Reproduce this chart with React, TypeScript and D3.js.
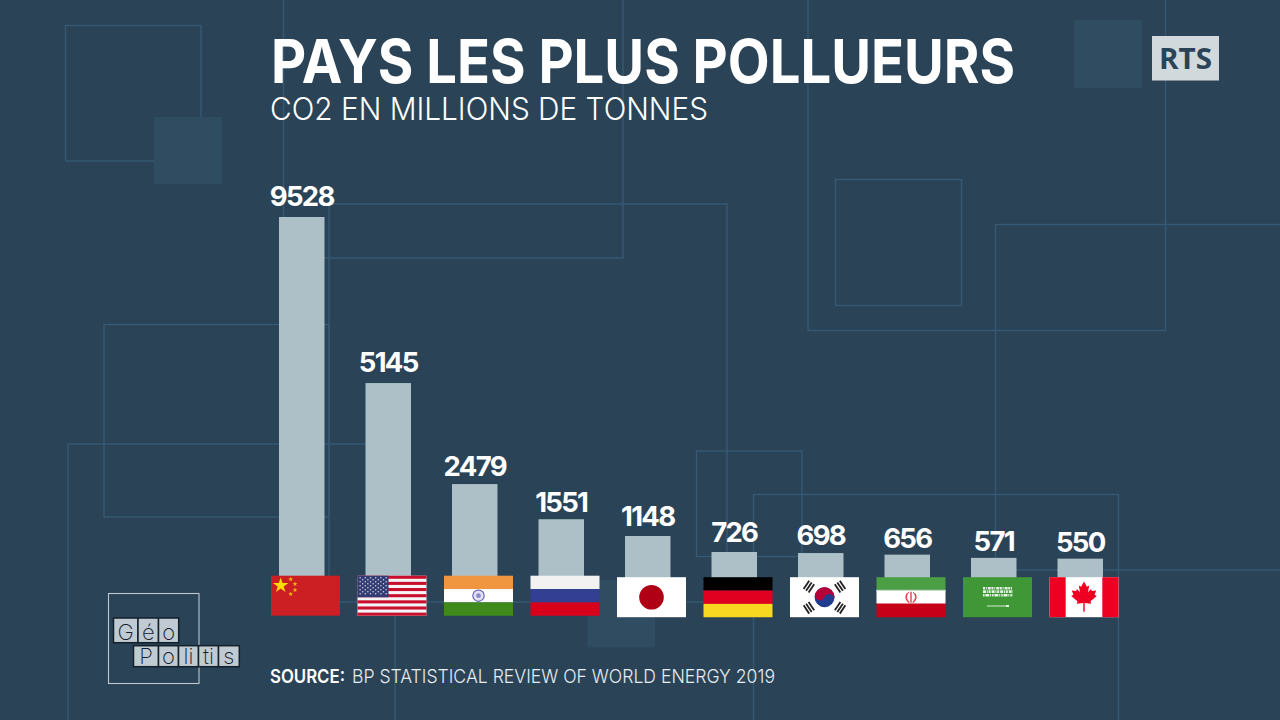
import * as d3 from "d3";

const countries = ["Chine", "Etats-Unis", "Inde", "Russie", "Japon", "Allemagne", "Coree du Sud", "Iran", "Arabie saoudite", "Canada"];
const emissions = [9528, 5145, 2479, 1551, 1148, 726, 698, 656, 571, 550];
// gap between a bar's top and the baseline of its label, the labels are not evenly placed
const labelGaps = [10.7, 11.3, 8, 7.3, 9.7, 9.6, 7.7, 6.3, 7.3, 6.6];

const width = 1280;
const height = 720;
const fontFamily = "Inter, sans-serif";
const flagWidth = 69;
const flagHeight = 40;

const background = "#2a4357";
const frameColor = "#375973";
const patchColor = "#2f4c61";
const barColor = "#adc0c7";

// decorative backdrop, [x, y, w, h]
const frames = [
  [65.5, 25.5, 135.5, 135.5],
  [283.5, -10, 339.5, 268],
  [329, 204, 398, 398],
  [104, 324.5, 225, 192.5],
  [68, 444, 327, 300],
  [808, -10, 357.5, 340.5],
  [835.5, 179.5, 126, 126],
  [995.5, 224.5, 300, 345.5],
  [696.5, 451, 105.5, 105.5],
  [753.5, 494.5, 365, 250],
];
const patches = [
  [154, 117, 68, 67],
  [1074, 20, 68, 68],
  [587.5, 580, 67.5, 67.5],
];

const logoRows = [
  { y: 618, h: 24.7, cells: [["G", 113.5, 24.5], ["é", 138, 20.5], ["o", 158.5, 20.2]] },
  { y: 645.7, h: 21, cells: [["P", 133.5, 25], ["o", 158.5, 20], ["li", 178.5, 20], ["ti", 198.5, 20], ["s", 218.5, 20.8]] },
] as const;

const xScale = d3.scaleBand<string>().domain(countries).range([279, 1103]).paddingInner(0.474).paddingOuter(0);
const yScale = d3.scaleLinear().domain([0, 9528]).range([578, 217]);

const star = (r: number) => d3.symbol().type(d3.symbolStar).size(r * r * 3.2)() ?? "";

function Bands({ colors }: { colors: string[] }) {
  const h = flagHeight / colors.length;
  return (
    <>
      {colors.map((c, i) => (
        <rect key={i} y={i * h} width={flagWidth} height={h + 0.05} fill={c} />
      ))}
    </>
  );
}

function China() {
  const small = [[19.7, 3.6], [24, 8.3], [24, 14.3], [19.7, 18.3]];
  return (
    <>
      <rect width={flagWidth} height={flagHeight} fill="#cb1f24" />
      <path d={star(4.8)} transform="translate(9.7,9.8)" fill="#fbdc04" />
      {small.map(([x, y], i) => (
        <path key={i} d={star(1.5)} transform={`translate(${x},${y})`} fill="#f5c800" />
      ))}
    </>
  );
}

function Usa() {
  const h = flagHeight / 13;
  return (
    <>
      <rect width={flagWidth} height={flagHeight} fill="#f4f4f6" />
      {d3.range(0, 13, 2).map((i) => (
        <rect key={i} y={i * h} width={flagWidth} height={h} fill="#c90f2e" />
      ))}
      <rect width={31} height={h * 7} fill="#333c72" />
      {d3.range(9).map((r) =>
        d3.range(r % 2 ? 5 : 6).map((c) => (
          <circle key={`${r}-${c}`} cx={(r % 2 ? 5.2 : 2.6) + c * 5.2} cy={2 + r * 2} r={0.75} fill="#d8dbe8" />
        ))
      )}
    </>
  );
}

function India() {
  return (
    <>
      <Bands colors={["#f09540", "#ffffff", "#3f8a1b"]} />
      <circle cx={34.5} cy={20} r={5.7} fill="#e4e2f2" stroke="#5b5bab" strokeWidth={1.1} />
      <circle cx={34.5} cy={20} r={2.4} fill="#8b8bc4" />
    </>
  );
}

function Korea() {
  const trigrams = [
    [-15.6, -10.6, -56],
    [15.6, -10.6, 56],
    [-15.6, 10.6, 56],
    [15.6, 10.6, -56],
  ];
  return (
    <>
      <rect width={flagWidth} height={flagHeight} fill="#ffffff" />
      {trigrams.map(([x, y, a], i) => (
        <g key={i} transform={`translate(${34.5 + x},${20 + y}) rotate(${a})`}>
          {[-3, 0, 3].map((o) => (
            <rect key={o} x={-5} y={o - 0.9} width={10} height={1.8} fill="#222222" />
          ))}
        </g>
      ))}
      <g transform="translate(34.5,20) rotate(22)">
        <circle r={10} fill="#1f3d8c" />
        <path d="M-10 0A10 10 0 0 1 10 0A5 5 0 0 0 0 0A5 5 0 0 1 -10 0Z" fill="#b5003a" />
      </g>
    </>
  );
}

function Iran() {
  return (
    <>
      <Bands colors={["#4b9e44", "#ffffff", "#c60018"]} />
      <line x2={flagWidth} y1={13.3} y2={13.3} stroke="#ffffff" strokeWidth={1.4} strokeDasharray="1 1" />
      <line x2={flagWidth} y1={26.7} y2={26.7} stroke="#c60018" strokeWidth={1.4} strokeDasharray="1 1" />
      <g transform="translate(34.5,20)" fill="none" stroke="#d8202c" strokeWidth={0.9}>
        <line y1={-5.5} y2={5.5} strokeWidth={1.2} />
        <path d="M-2 -5A6 6 0 0 0 -1.5 5" />
        <path d="M2 -5A6 6 0 0 1 1.5 5" />
        <path d="M-3.8 -4A6.5 6.5 0 0 0 -2 5.5" />
        <path d="M3.8 -4A6.5 6.5 0 0 1 2 5.5" />
      </g>
    </>
  );
}

function Saudi() {
  return (
    <>
      <rect width={flagWidth} height={flagHeight} fill="#3f9735" />
      <g stroke="#ffffff" fill="none" opacity={0.88}>
        <line x1={20} x2={50} y1={11} y2={11} strokeWidth={2.4} strokeDasharray="2 0.8 1 1 3 0.6" />
        <line x1={20} x2={50} y1={14.5} y2={14.5} strokeWidth={2.8} strokeDasharray="3 0.8 1 0.8 2 1" />
        <line x1={20} x2={50} y1={18} y2={18} strokeWidth={2.4} strokeDasharray="1.5 0.8 4 0.8 1 1" />
      </g>
      <line x1={24} x2={44} y1={28.8} y2={28.8} stroke="#e8f2e4" strokeWidth={0.9} />
      <rect x={43} y={27.8} width={3} height={2} fill="#e8f2e4" />
    </>
  );
}

const leafHalf: [number, number][] = [
  [0, -15.3], [2.9, -10], [5.2, -11.2], [4, -4.5], [7, -7.6], [7.9, -5.6], [12.2, -6.3], [10.6, -2],
  [12.8, -0.8], [6.5, 4.6], [7.2, 7], [0.7, 6.2], [0.7, 15],
];

function Canada() {
  const points = [...leafHalf, ...leafHalf.slice(1).reverse().map(([x, y]) => [-x, y] as [number, number])];
  const leaf = d3.line()(points) ?? "";
  return (
    <>
      <rect width={flagWidth} height={flagHeight} fill="#ffffff" />
      <rect width={16.2} height={flagHeight} fill="#ee0022" />
      <rect x={52.8} width={16.2} height={flagHeight} fill="#ee0022" />
      <path d={leaf} transform="translate(34.5,19.5)" fill="#ee0022" />
    </>
  );
}

function Flag({ index }: { index: number }) {
  switch (index) {
    case 0:
      return <China />;
    case 1:
      return <Usa />;
    case 2:
      return <India />;
    case 3:
      return <Bands colors={["#f2f2f2", "#333f93", "#d9001c"]} />;
    case 4:
      return (
        <>
          <rect width={flagWidth} height={flagHeight} fill="#ffffff" />
          <circle cx={34.5} cy={20} r={12.3} fill="#b00016" />
        </>
      );
    case 5:
      return <Bands colors={["#000000", "#e1001f", "#f8d821"]} />;
    case 6:
      return <Korea />;
    case 7:
      return <Iran />;
    case 8:
      return <Saudi />;
    default:
      return <Canada />;
  }
}

export default function App() {
  const barWidth = xScale.bandwidth();

  return (
    <svg width={width} height={height} viewBox={`0 0 ${width} ${height}`} style={{ position: "absolute", left: 0, top: 0, display: "block" }} fontFamily={fontFamily}>
      <rect width={width} height={height} fill={background} />

      {frames.map(([x, y, w, h], i) => (
        <rect key={i} x={x} y={y} width={w} height={h} fill="none" stroke={frameColor} strokeWidth={1.4} />
      ))}
      {patches.map(([x, y, w, h], i) => (
        <rect key={i} x={x} y={y} width={w} height={h} fill={patchColor} />
      ))}

      <text x={271} y={83} fontSize={60} fontWeight={700} fill="#ffffff" textLength={744} lengthAdjust="spacingAndGlyphs">PAYS LES PLUS POLLUEURS</text>
      <text x={270} y={120} fontSize={31} fontWeight={300} fill="#ffffff" textLength={438} lengthAdjust="spacingAndGlyphs">CO2 EN MILLIONS DE TONNES</text>

      {countries.map((country, i) => {
        // from Japan onwards the whole column sits a touch lower
        const shift = i >= 4 ? 1.5 : 0;
        const x = xScale(country) ?? 0;
        const top = yScale(emissions[i]) + shift;
        return (
          <g key={country}>
            <rect x={x} y={top} width={barWidth} height={yScale(0) + shift - top} fill={barColor} />
            <text x={x + barWidth / 2} y={top - labelGaps[i]} textAnchor="middle" fontSize={27.5} fontWeight={700} letterSpacing={-1.7} fill="#ffffff">{emissions[i]}</text>
            <g transform={`translate(${x - 8},${575.7 + shift})`}>
              <Flag index={i} />
            </g>
          </g>
        );
      })}

      <text x={270} y={683} fontSize={19} fontWeight={600} fill="#ffffff" textLength={75} lengthAdjust="spacingAndGlyphs">SOURCE:</text>
      <text x={352} y={683} fontSize={19} fontWeight={300} fill="#e6ecef" textLength={423} lengthAdjust="spacingAndGlyphs">BP STATISTICAL REVIEW OF WORLD ENERGY 2019</text>

      <rect x={1152} y={36} width={67} height={44.5} fill="#dbe1e5" fillOpacity={0.95} />
      <text x={1159} y={68.5} fontFamily="'Open Sans', sans-serif" fontSize={29} fontWeight={700} fill={background} textLength={53} lengthAdjust="spacingAndGlyphs">RTS</text>

      <rect x={108.5} y={593.5} width={90.5} height={90} fill="none" stroke="#bcc8ce" strokeWidth={1.1} />
      {logoRows.map((row) =>
        row.cells.map(([label, x, w]) => (
          <g key={`${row.y}-${x}`}>
            <rect x={x} y={row.y} width={w} height={row.h} fill="#c0cad2" stroke="#14202b" strokeWidth={1.5} />
            <text x={x + w / 2} y={row.y + row.h - 3} textAnchor="middle" fontFamily="Inter, sans-serif" fontSize={22} fontWeight={200} fill="#14202b">{label}</text>
          </g>
        ))
      )}
    </svg>
  );
}
